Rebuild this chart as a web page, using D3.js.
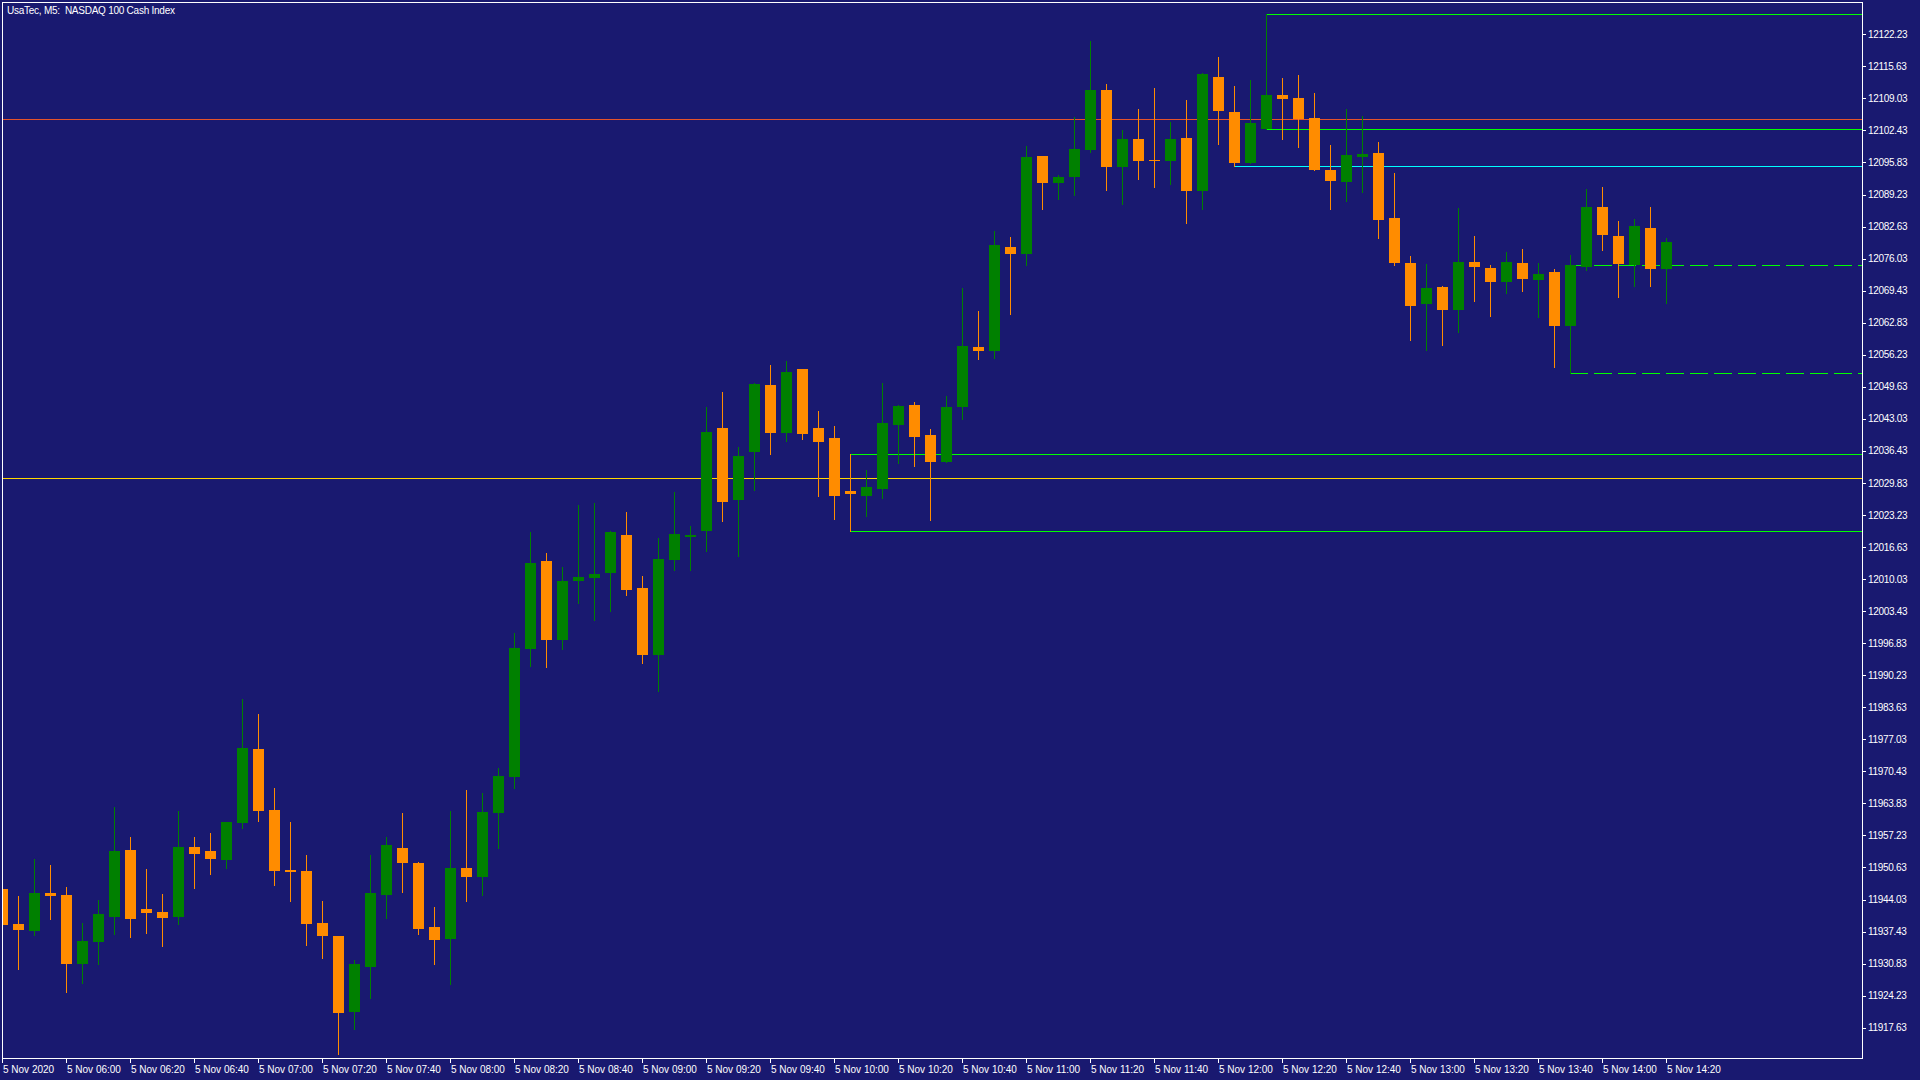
<!DOCTYPE html>
<html>
<head>
<meta charset="utf-8">
<script src="https://cdn.jsdelivr.net/npm/d3@7"></script>
<style>
html, body { margin:0; padding:0; background:#191970; overflow:hidden; }
text { font-family:"Liberation Sans", Arial, sans-serif; fill:#ffffff; }
</style>
</head>
<body>
<div id="chart"></div>
<script>
// UsaTec M5 bars, 5 Nov 2020
var times = ["05:40","05:45","05:50","05:55",
    "06:00","06:05","06:10","06:15","06:20","06:25","06:30","06:35","06:40","06:45","06:50","06:55",
    "07:00","07:05","07:10","07:15","07:20","07:25","07:30","07:35","07:40","07:45","07:50","07:55",
    "08:00","08:05","08:10","08:15","08:20","08:25","08:30","08:35","08:40","08:45","08:50","08:55",
    "09:00","09:05","09:10","09:15","09:20","09:25","09:30","09:35","09:40","09:45","09:50","09:55",
    "10:00","10:05","10:10","10:15","10:20","10:25","10:30","10:35","10:40","10:45","10:50","10:55",
    "11:00","11:05","11:10","11:15","11:20","11:25","11:30","11:35","11:40","11:45","11:50","11:55",
    "12:00","12:05","12:10","12:15","12:20","12:25","12:30","12:35","12:40","12:45","12:50","12:55",
    "13:00","13:05","13:10","13:15","13:20","13:25","13:30","13:35","13:40","13:45","13:50","13:55",
    "14:00","14:05","14:10","14:15","14:20"];

var open = [11946.22,11939.01,11937.57,11945.40,11944.98,11930.77,11935.31,11940.45,11954.25,11942.10,
    11941.48,11940.45,11954.87,11954.04,11952.19,11959.81,11975.05,11962.49,11950.13,11949.93,
    11939.22,11936.54,11920.89,11930.16,11944.98,11954.66,11951.58,11938.40,11935.93,11950.55,
    11948.69,11961.87,11969.29,11995.65,12013.77,11997.50,12009.65,12010.27,12011.30,12019.12,
    12008.21,11994.41,12013.97,12018.71,12019.95,12041.16,12026.33,12036.22,12050.01,12040.13,
    12053.31,12041.16,12039.10,12028.19,12027.16,12028.60,12041.78,12045.90,12039.72,12034.16,
    12045.48,12057.83,12057.01,12078.43,12076.98,12097.16,12091.60,12092.84,12098.40,12110.76,
    12094.90,12100.67,12096.34,12096.14,12100.87,12089.96,12113.43,12106.23,12095.72,12102.80,
    12109.73,12109.11,12104.99,12094.28,12091.81,12096.96,12097.79,12084.40,12075.13,12066.69,
    12070.19,12065.45,12075.34,12074.10,12071.22,12075.13,12071.63,12073.28,12062.16,12074.31,
    12086.67,12080.69,12074.72,12082.34,12073.90];

var high = [11947.00,11944.78,11952.40,11951.16,11946.63,11939.22,11943.95,11963.11,11956.93,11950.34,
    11945.19,11962.28,11956.93,11957.75,11960.02,11985.35,11982.26,11967.02,11960.02,11953.22,
    11943.75,11936.54,11931.60,11953.22,11956.93,11961.87,11951.70,11942.52,11962.29,11966.61,
    11965.99,11971.14,11998.94,12019.74,12015.42,12012.53,12025.30,12025.71,12019.95,12023.86,
    12010.68,12018.51,12027.98,12020.98,12045.48,12048.57,12037.25,12050.43,12054.13,12054.96,
    12053.31,12044.66,12041.57,12035.76,12032.51,12050.43,12045.90,12046.51,12040.95,12047.75,
    12069.98,12065.25,12081.72,12080.48,12099.22,12097.16,12093.25,12105.20,12120.85,12111.99,
    12102.52,12106.84,12111.17,12104.17,12108.70,12114.26,12117.55,12111.58,12112.82,12126.35,
    12113.23,12113.85,12110.14,12099.43,12106.84,12105.41,12100.05,12093.67,12076.58,12074.93,
    12070.40,12086.46,12080.69,12074.72,12077.40,12078.02,12075.13,12073.90,12076.78,12090.37,
    12090.78,12083.78,12084.19,12086.67,12080.28];

var low = [11938.20,11929.75,11936.75,11940.04,11925.01,11926.86,11930.77,11936.95,11936.33,11937.16,
    11934.48,11939.01,11946.43,11949.31,11950.54,11958.78,11960.22,11947.04,11943.75,11934.69,
    11932.01,11912.24,11917.39,11923.77,11940.25,11945.60,11936.96,11930.78,11926.66,11943.75,
    11944.99,11954.67,11967.02,11992.15,11991.94,11995.65,12005.12,12001.62,12003.47,12006.77,
    11992.76,11987.00,12011.92,12011.92,12015.83,12022.01,12014.80,12028.39,12035.80,12038.48,
    12038.89,12027.16,12022.42,12019.85,12023.04,12026.74,12033.95,12033.33,12022.21,12034.16,
    12043.01,12055.36,12055.57,12064.63,12074.72,12086.25,12088.31,12089.13,12097.99,12090.16,
    12087.28,12092.43,12090.78,12091.40,12083.37,12086.25,12099.64,12095.07,12095.72,12102.80,
    12100.67,12099.02,12094.28,12086.25,12087.90,12089.76,12080.28,12074.72,12059.28,12057.22,
    12058.25,12060.92,12067.31,12064.22,12068.96,12069.37,12064.01,12053.72,12052.41,12073.69,
    12077.81,12068.13,12070.40,12070.40,12066.90];

var close = [11938.81,11937.78,11945.40,11944.78,11930.77,11935.51,11941.07,11954.04,11940.04,11941.28,
    11940.25,11954.87,11953.43,11952.40,11960.02,11975.26,11962.28,11949.93,11949.72,11939.01,
    11936.54,11920.68,11930.77,11945.40,11955.28,11951.57,11937.99,11935.72,11950.55,11948.69,
    11962.08,11969.49,11995.85,12013.36,11997.50,12009.65,12010.47,12011.09,12019.74,12007.80,
    11994.41,12014.18,12019.33,12019.12,12040.34,12025.92,12035.39,12050.22,12040.13,12052.69,
    12039.92,12038.28,12027.16,12027.57,12029.01,12042.19,12045.69,12039.31,12034.16,12045.48,
    12058.04,12057.01,12078.84,12076.98,12096.96,12091.60,12092.84,12098.61,12110.76,12094.90,
    12100.67,12096.14,12096.14,12100.67,12089.96,12114.05,12106.43,12095.72,12103.96,12109.73,
    12108.90,12104.78,12094.28,12092.02,12097.37,12097.58,12083.99,12075.13,12066.28,12069.99,
    12065.45,12075.34,12074.31,12071.22,12075.34,12071.84,12072.87,12062.16,12074.72,12086.67,
    12080.90,12074.93,12082.75,12073.90,12079.46];

var priceTicks = [12122.23,12115.63,12109.03,12102.43,12095.83,12089.23,12082.63,12076.03,
    12069.43,12062.83,12056.23,12049.63,12043.03,12036.43,12029.83,12023.23,12016.63,12010.03,
    12003.43,11996.83,11990.23,11983.63,11977.03,11970.43,11963.83,11957.23,11950.63,11944.03,
    11937.43,11930.83,11924.23,11917.63];

var tickTimes = ["05:40","06:00","06:20","06:40","07:00","07:20","07:40","08:00","08:20","08:40",
    "09:00","09:20","09:40","10:00","10:20","10:40","11:00","11:20","11:40","12:00","12:20","12:40",
    "13:00","13:20","13:40","14:00","14:20"];
var tickLabels = ["5 Nov 2020","5 Nov 06:00","5 Nov 06:20","5 Nov 06:40","5 Nov 07:00","5 Nov 07:20",
    "5 Nov 07:40","5 Nov 08:00","5 Nov 08:20","5 Nov 08:40","5 Nov 09:00","5 Nov 09:20","5 Nov 09:40",
    "5 Nov 10:00","5 Nov 10:20","5 Nov 10:40","5 Nov 11:00","5 Nov 11:20","5 Nov 11:40","5 Nov 12:00",
    "5 Nov 12:20","5 Nov 12:40","5 Nov 13:00","5 Nov 13:20","5 Nov 13:40","5 Nov 14:00","5 Nov 14:20"];

// horizontal levels
var hlinePrices = [12104.73, 12030.80];
var boxTime = "10:05", boxPrices = [12035.76, 12019.85];
var cyanTime = "12:05", cyanPrices = [12095.07];
var rangeTime = "12:15", rangePrices = [12126.35, 12102.80];
var dashTime = "13:50", dashPrices = [12074.65, 12052.41];

var W = 1920, H = 1080;
var pLeft = 2, pTop = 2, pRight = 1862, pBottom = 1058;
var green = "#008000", orange = "#ff8c00";

var svg = d3.select("#chart").append("svg").attr("width", W).attr("height", H)
    .attr("shape-rendering", "crispEdges");
svg.append("rect").attr("width", W).attr("height", H).attr("fill", "#191970");

var x = d3.scalePoint().domain(times).range([2.3, 1666.3]);
var y = d3.scaleLinear().domain([11917.63, 12122.23]).range([1027.7, 34.3]);

svg.append("clipPath").attr("id", "plot").append("rect")
    .attr("x", pLeft + 1).attr("y", pTop + 1).attr("width", pRight - pLeft - 1).attr("height", pBottom - pTop - 1);
var plot = svg.append("g").attr("clip-path", "url(#plot)");

var py = function(p){ return Math.round(y(p)); };

// full width lines
var hColors = ["#e4532a", "#ffd700"];
plot.selectAll(".hl").data(hlinePrices).enter().append("rect")
    .attr("x", pLeft).attr("width", pRight - pLeft).attr("y", function(d){ return py(d); })
    .attr("height", 1).attr("fill", function(d, i){ return hColors[i]; });

// rays starting at a bar
var ray = function(t, prices, color, dash){
    var x0 = Math.floor(x(t));
    plot.selectAll(null).data(prices).enter().append("line")
        .attr("x1", x0).attr("x2", pRight)
        .attr("y1", function(d){ return py(d) + 0.5; }).attr("y2", function(d){ return py(d) + 0.5; })
        .attr("stroke", color).attr("stroke-width", 1)
        .attr("stroke-dasharray", dash ? "18,6" : null);
};
ray(boxTime, boxPrices, "#00ff00", false);
ray(cyanTime, cyanPrices, "#00ffff", false);
ray(rangeTime, rangePrices, "#00ff00", false);
ray(dashTime, dashPrices, "#00ff00", true);

// candles
var idx = d3.range(times.length);
var col = function(i){ return close[i] > open[i] ? green : orange; };
plot.selectAll(".wick").data(idx).enter().append("rect")
    .attr("x", function(i){ return Math.floor(x(times[i])); })
    .attr("width", 1)
    .attr("y", function(i){ return py(high[i]); })
    .attr("height", function(i){ return Math.max(1, py(low[i]) - py(high[i]) + 1); })
    .attr("fill", col);
plot.selectAll(".body").data(idx).enter().append("rect")
    .attr("x", function(i){ return Math.floor(x(times[i])) - 5; })
    .attr("width", 11)
    .attr("y", function(i){ return py(Math.max(open[i], close[i])); })
    .attr("height", function(i){ return Math.max(1, py(Math.min(open[i], close[i])) - py(Math.max(open[i], close[i]))); })
    .attr("fill", col);

// frame
svg.append("rect").attr("x", pLeft + 0.5).attr("y", pTop + 0.5)
    .attr("width", pRight - pLeft).attr("height", pBottom - pTop)
    .attr("fill", "none").attr("stroke", "#ffffff").attr("stroke-width", 1);

// price axis
var pa = svg.append("g");
pa.selectAll("line").data(priceTicks).enter().append("line")
    .attr("x1", pRight).attr("x2", pRight + 4)
    .attr("y1", function(d){ return py(d) + 0.5; }).attr("y2", function(d){ return py(d) + 0.5; })
    .attr("stroke", "#ffffff");
pa.selectAll("text").data(priceTicks).enter().append("text")
    .attr("x", pRight + 6).attr("y", function(d){ return y(d) + 3.6; })
    .attr("font-size", 10).attr("letter-spacing", "-0.3px")
    .text(function(d){ return d.toFixed(2); });

// time axis
var ta = svg.append("g");
ta.selectAll("line").data(tickTimes).enter().append("line")
    .attr("x1", function(d){ return Math.floor(x(d)) + 0.5; }).attr("x2", function(d){ return Math.floor(x(d)) + 0.5; })
    .attr("y1", pBottom).attr("y2", pBottom + 5)
    .attr("stroke", "#ffffff");
ta.selectAll("text").data(tickTimes).enter().append("text")
    .attr("x", function(d){ return Math.floor(x(d)) + 1; }).attr("y", 1073)
    .attr("font-size", 10)
    .text(function(d, i){ return tickLabels[i]; });

// title
svg.append("text").attr("x", 7).attr("y", 13.5).attr("font-size", 10)
    .attr("letter-spacing", "-0.25px")
    .style("white-space", "pre")
    .text("UsaTec, M5:  NASDAQ 100 Cash Index");
</script>
</body>
</html>
